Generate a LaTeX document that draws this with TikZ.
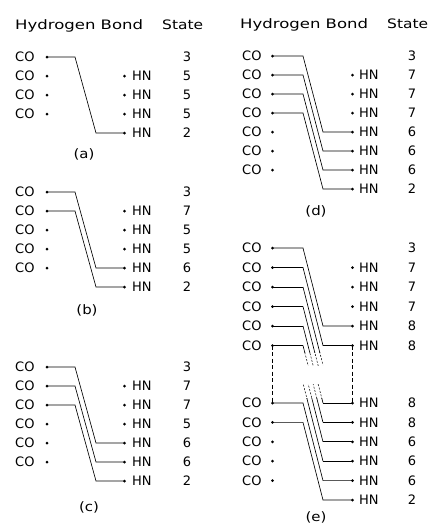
\documentclass[tikz,border=0pt]{standalone}
\usepackage{fontspec}
\usepackage{graphicx}
\newfontfamily\labfont{DejaVu Sans}
\newcommand\tf{\labfont\fontsize{13}{15}\selectfont}
\begin{document}
\begin{tikzpicture}[x=1pt,y=-1pt,
  dot/.style={circle, fill, inner sep=0pt, minimum size=3pt},
  lab/.style={inner sep=0pt, anchor=base west, font=\tf},
  num/.style={inner sep=0pt, anchor=base, font=\tf},
  plabel/.style={inner sep=0pt, anchor=center, font=\tf},
  bond/.style={line width=0.65pt},
  brk/.style={line width=0.5pt, dash pattern=on 2pt off 1.5pt},
  brkframe/.style={line width=0.5pt, dash pattern=on 4pt off 2.5pt}]
\useasboundingbox (0,0) rectangle (435,528);
\coordinate (La) at (75,0);
\coordinate (Lb) at (96,0);
\coordinate (Ra) at (303,0);
\coordinate (Rb) at (323,0);
% headers
\node[lab] (hL1) at (15,29) {\scalebox{1.27}[1]{Hydrogen Bond}};
\node[lab] (hL2) at (162,29) {\scalebox{1.19}[1]{State}};
\node[lab] (hR1) at (240,28.5) {\scalebox{1.27}[1]{Hydrogen Bond}};
\node[lab] (hR2) at (387,28.5) {\scalebox{1.19}[1]{State}};
% ---------- panel a
\node[num] (aS1) at (187,61.7) {3};
\foreach \y [count=\i] in {57,76,95,114}{
  \node[dot] (aC\i) at (47,\y) {};
  \node[lab] (aT\i) at (15,\y+4.7) {CO};}
\foreach \y/\s [count=\i from 2] in {76/5,95/5,114/5,133/2}{
  \node[dot] (aH\i) at (124.5,\y) {};
  \node[lab] (aN\i) at (132,\y+4.7) {HN};
  \node[num] (aS\i) at (187,\y+4.7) {\s};}
\draw[bond] (aC1.center) -- (aC1 -| La) -- (aH5 -| Lb) -- (aH5.center);
\node[plabel] (aL) at (84,154) {\scalebox{1.15}[1]{(a)}};
% ---------- panel b
\node[num] (bS1) at (187,196.7) {3};
\foreach \y [count=\i] in {192,211,230,249,268}{
  \node[dot] (bC\i) at (47,\y) {};
  \node[lab] (bT\i) at (15,\y+4.7) {CO};}
\foreach \y/\s [count=\i from 2] in {211/7,230/5,249/5,268/6,287/2}{
  \node[dot] (bH\i) at (124.5,\y) {};
  \node[lab] (bN\i) at (132,\y+4.7) {HN};
  \node[num] (bS\i) at (187,\y+4.7) {\s};}
\foreach \i/\j in {1/5,2/6}{
  \draw[bond] (bC\i.center) -- (bC\i -| La) -- (bH\j -| Lb) -- (bH\j.center);}
\node[plabel] (bL) at (87,310) {\scalebox{1.15}[1]{(b)}};
% ---------- panel c
\node[num] (cS1) at (187,371.7) {3};
\foreach \y [count=\i] in {367,386,405,424,443,462}{
  \node[dot] (cC\i) at (47,\y) {};
  \node[lab] (cT\i) at (15,\y+4.7) {CO};}
\foreach \y/\s [count=\i from 2] in {386/7,405/7,424/5,443/6,462/6,481/2}{
  \node[dot] (cH\i) at (124.5,\y) {};
  \node[lab] (cN\i) at (132,\y+4.7) {HN};
  \node[num] (cS\i) at (187,\y+4.7) {\s};}
\foreach \i/\j in {1/5,2/6,3/7}{
  \draw[bond] (cC\i.center) -- (cC\i -| La) -- (cH\j -| Lb) -- (cH\j.center);}
\node[plabel] (cL) at (89,507) {\scalebox{1.15}[1]{(c)}};
% ---------- panel d
\node[num] (dS1) at (412,60.7) {3};
\foreach \y [count=\i] in {56,75,94,113,132,151,170}{
  \node[dot] (dC\i) at (272.5,\y) {};
  \node[lab] (dT\i) at (242,\y+4.7) {CO};}
\foreach \y/\s [count=\i from 2] in {75/7,94/7,113/7,132/6,151/6,170/6,189/2}{
  \node[dot] (dH\i) at (352.5,\y) {};
  \node[lab] (dN\i) at (359,\y+4.7) {HN};
  \node[num] (dS\i) at (412,\y+4.7) {\s};}
\foreach \i/\j in {1/5,2/6,3/7,4/8}{
  \draw[bond] (dC\i.center) -- (dC\i -| Ra) -- (dH\j -| Rb) -- (dH\j.center);}
\node[plabel] (dL) at (316,211) {\scalebox{1.15}[1]{(d)}};
% ---------- panel e, upper part
\node[num] (eS1) at (412,252.7) {3};
\foreach \y [count=\i] in {248,267.5,287,306.5,326,345.5}{
  \node[dot] (eC\i) at (272.5,\y) {};
  \node[lab] (eT\i) at (242,\y+4.7) {CO};}
\foreach \y/\s [count=\i from 2] in {267.5/7,287/7,306.5/7,326/8,345.5/8}{
  \node[dot] (eH\i) at (352.5,\y) {};
  \node[lab] (eN\i) at (359,\y+4.7) {HN};
  \node[num] (eS\i) at (412,\y+4.7) {\s};}
\foreach \i/\j in {1/5,2/6}{
  \draw[bond] (eC\i.center) -- (eC\i -| Ra) -- (eH\j -| Rb) -- (eH\j.center);}
\foreach \i in {3,4,5,6}{
  \draw[bond] (eC\i.center) -- (eC\i -| Ra);}
\begin{scope}
  \clip (200,200) rectangle (400,352);
  \foreach \i in {3,4,5,6}{\draw[bond] (eC\i -| Ra) -- ++(20,78);}
\end{scope}
\begin{scope}
  \clip (200,352) rectangle (400,365);
  \foreach \i in {3,4,5,6}{\draw[brk] (eC\i -| Ra) -- ++(20,78);}
\end{scope}
% ---------- panel e, lower part
\foreach \y [count=\i] in {403,422.4,441.8,461.2,480.6}{
  \node[dot] (fC\i) at (272.5,\y) {};
  \node[lab] (fT\i) at (242,\y+4.7) {CO};}
\foreach \y/\s [count=\i] in {403/8,422.4/8,441.8/6,461.2/6,480.6/6,500/2}{
  \node[dot] (fH\i) at (352.5,\y) {};
  \node[lab] (fN\i) at (359,\y+4.7) {HN};
  \node[num] (fS\i) at (412,\y+4.7) {\s};}
\foreach \i/\j in {1/5,2/6}{
  \draw[bond] (fC\i.center) -- (fC\i -| Ra) -- (fH\j -| Rb) -- (fH\j.center);}
\foreach \i in {1,2,3,4}{
  \draw[bond] (fH\i.center) -- (fH\i -| Rb);}
\begin{scope}
  \clip (200,398) rectangle (400,520);
  \foreach \i in {1,2,3,4}{\draw[bond] (fH\i -| Rb) -- ++(-20,-78);}
\end{scope}
\begin{scope}
  \clip (200,384) rectangle (400,398);
  \foreach \i in {1,2,3,4}{\draw[brk] (fH\i -| Rb) -- ++(-20,-78);}
\end{scope}
% dashed break frame
\draw[brkframe] (eC6.center) -- (fC1.center);
\draw[brkframe] (eH6.center) -- (fH1.center);
\node[plabel] (eL) at (316,517) {\scalebox{1.15}[1]{(e)}};
\end{tikzpicture}
\end{document}
